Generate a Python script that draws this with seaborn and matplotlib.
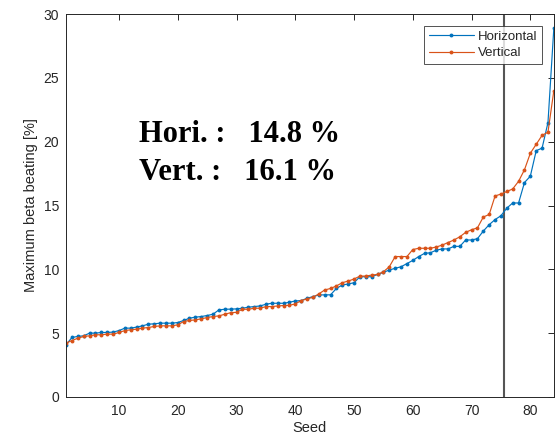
import numpy as np
import pandas as pd
import matplotlib
matplotlib.use("Agg")
import matplotlib.pyplot as plt
import seaborn as sns

horizontal = [4.09, 4.66, 4.74, 4.79, 5.0, 5.0, 5.05, 5.05, 5.08, 5.2,
              5.39, 5.39, 5.47, 5.57, 5.7, 5.73, 5.78, 5.78, 5.78, 5.83,
              5.99, 6.17, 6.25, 6.3, 6.38, 6.48, 6.82, 6.87, 6.88, 6.9,
              6.95, 7.03, 7.08, 7.13, 7.26, 7.34, 7.34, 7.34, 7.42, 7.52,
              7.55, 7.73, 7.86, 7.99, 8.0, 8.0, 8.5, 8.77, 8.85, 8.95,
              9.42, 9.42, 9.42, 9.6, 9.76, 9.95, 10.08, 10.2, 10.45, 10.7,
              11.0, 11.25, 11.3, 11.5, 11.6, 11.6, 11.8, 11.8, 12.3, 12.3,
              12.4, 13.0, 13.5, 13.9, 14.2, 14.8, 15.2, 15.2, 16.8, 17.3,
              19.3, 19.5, 21.5, 28.9]
vertical = [4.22, 4.42, 4.6, 4.74, 4.79, 4.87, 4.87, 4.92, 4.92, 5.05,
            5.2, 5.26, 5.31, 5.39, 5.44, 5.52, 5.57, 5.57, 5.57, 5.65,
            5.91, 5.99, 6.04, 6.12, 6.22, 6.3, 6.35, 6.48, 6.6, 6.63,
            6.87, 6.87, 6.95, 6.95, 7.08, 7.08, 7.13, 7.16, 7.18, 7.29,
            7.55, 7.68, 7.81, 8.07, 8.38, 8.5, 8.7, 8.95, 9.08, 9.24,
            9.47, 9.47, 9.55, 9.6, 9.81, 10.2, 11.0, 11.0, 11.0, 11.55,
            11.65, 11.65, 11.65, 11.75, 11.9, 12.1, 12.3, 12.55, 12.9, 13.1,
            13.25, 14.1, 14.3, 15.75, 15.9, 16.1, 16.3, 16.9, 17.8, 19.1,
            19.8, 20.5, 20.75, 24.0]
series_names = ["Horizontal", "Vertical"]
seeds = list(range(1, len(horizontal) + 1))
percentile_seed = 0.9 * len(horizontal)
annot_lines = ["Hori. :   14.8 %", "Vert. :   16.1 %"]
x_ticks = [10, 20, 30, 40, 50, 60, 70, 80]
y_ticks = [0, 5, 10, 15, 20, 25, 30]

df = pd.DataFrame({
    "Seed": seeds * 2,
    "value": horizontal + vertical,
    "series": [series_names[0]] * len(seeds) + [series_names[1]] * len(seeds),
})

sns.set_theme(style="white")
plt.rcParams["font.family"] = ["Liberation Sans", "DejaVu Sans"]

fig = plt.figure(figsize=(5.6, 4.42), dpi=100)
ax = fig.add_axes([0.118, 0.102, 0.871, 0.866])

palette = {"Horizontal": "#0072BD", "Vertical": "#D95319"}
sns.lineplot(data=df, x="Seed", y="value", hue="series", palette=palette,
             marker="o", markersize=2.8, markeredgewidth=0, linewidth=0.85,
             ax=ax, legend=True)

ax.axvline(percentile_seed, color="#555555", linewidth=1.5, zorder=1)

ax.set_xlim(1, len(horizontal))
ax.set_ylim(0, 30)
ax.set_xticks(x_ticks)
ax.set_yticks(y_ticks)
ax.set_xlabel("Seed", fontsize=10.5, color="#262626", labelpad=2)
ax.set_ylabel("Maximum beta beating [%]", fontsize=10.5, color="#262626", labelpad=4)
ax.tick_params(direction="in", length=4, width=0.7, top=True, right=True,
               labelsize=10, colors="#262626", pad=5)
for sp in ax.spines.values():
    sp.set_color("#262626")
    sp.set_linewidth(0.7)

leg = ax.legend(loc="upper right", bbox_to_anchor=(0.975, 0.969), fontsize=9.5,
                frameon=True, fancybox=False, edgecolor="#262626",
                borderpad=0.35, handlelength=3.4, handletextpad=0.3,
                labelspacing=0.32, borderaxespad=0)
leg.get_frame().set_linewidth(0.7)

for i, t in enumerate(annot_lines):
    fig.text(0.248, 0.679 - i * 0.086, t, fontsize=22, fontweight="bold",
             family=["Liberation Serif", "DejaVu Serif"], ha="left",
             va="baseline", color="black")

fig.savefig("out.png", dpi=100)
